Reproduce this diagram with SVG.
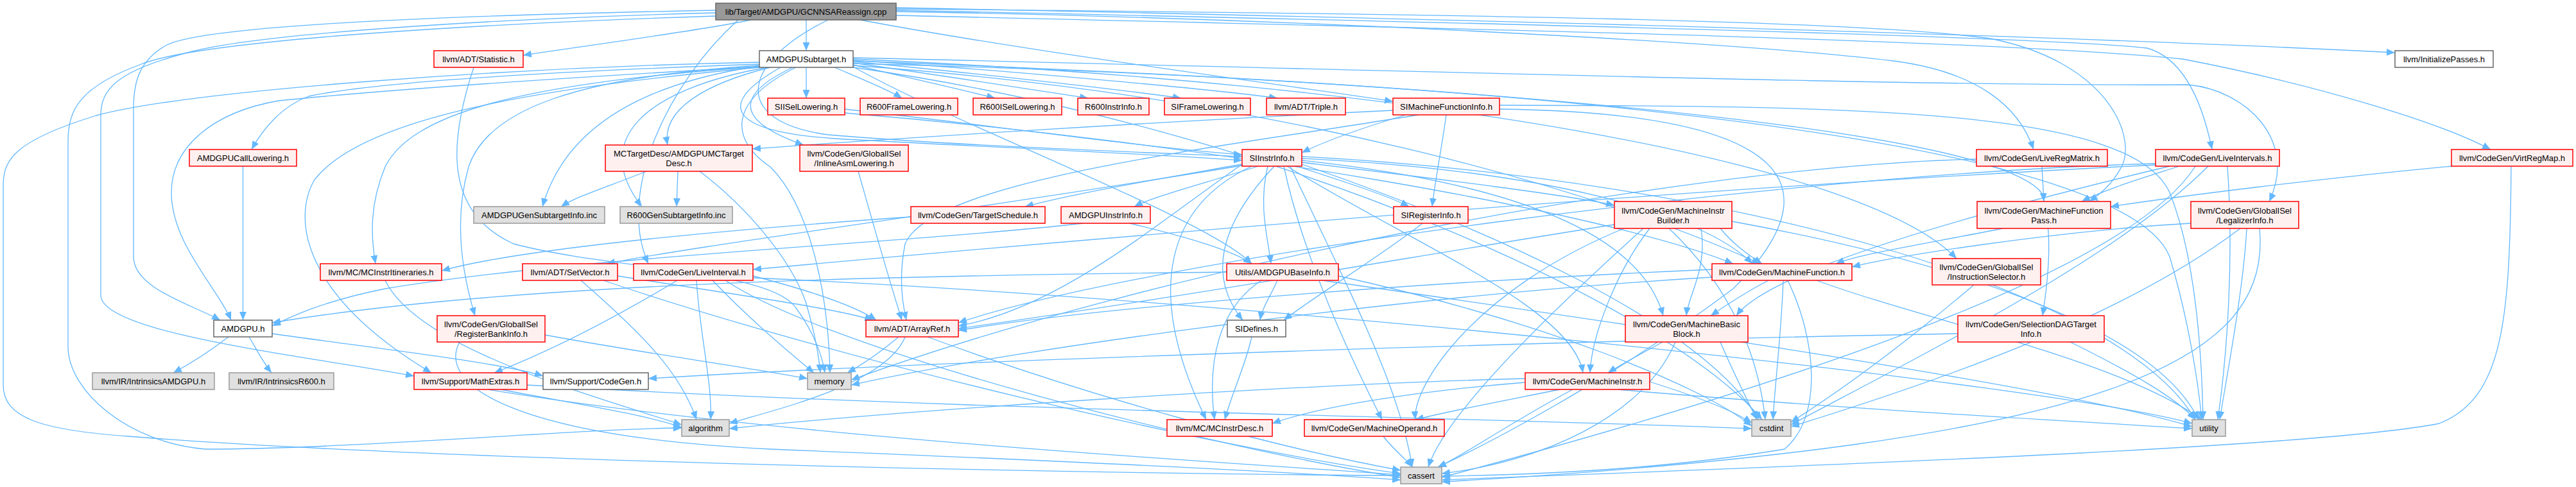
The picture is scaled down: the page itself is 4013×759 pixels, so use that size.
<svg xmlns="http://www.w3.org/2000/svg" width="4013" height="759" viewBox="0 0 4013 759">
<style>
.node rect{stroke-width:1.5}
.r rect{fill:#fff0f0;stroke:#ff0000}
.g rect{fill:#e0e0e0;stroke:#999999}
.w rect{fill:#ffffff;stroke:#666666}
.root rect{fill:#999999;stroke:#666666}
.node text{font-family:"Liberation Sans",Arial,sans-serif;font-size:13px;fill:#000;text-anchor:middle}
.edges path{fill:none;stroke:#63b8ff;stroke-width:1.3;marker-end:url(#a)}
</style>
<defs>
<marker id="a" markerWidth="13" markerHeight="11" refX="13" refY="5.5" orient="auto" markerUnits="userSpaceOnUse">
<path d="M0,0 L13,5.5 L0,11 z" fill="#63b8ff"/>
</marker>
</defs>
<rect width="4013" height="759" fill="#ffffff"/>
<g class="edges">
<path d="M1256,31 L1256,79"/>
<path d="M1170,31 C1090,48 920,70 815,86"/>
<path d="M1340,31 C1600,80 1950,125 2170,158"/>
<path d="M1290,31 C1150,100 1140,190 1290,210 C1500,228 1800,238 1935,244"/>
<path d="M1115,16 C800,22 330,35 260,70 C215,95 208,130 208,170 L208,400 C208,450 300,475 343,499"/>
<path d="M1115,20 C800,28 420,50 300,80 C180,110 157,140 157,180 L157,460 C157,520 480,555 645,586"/>
<path d="M1115,25 C800,35 320,60 220,100 C125,135 106,170 106,220 L106,540 C106,610 200,690 320,700 C550,700 900,668 1062,667"/>
<path d="M1150,31 C1040,130 960,300 1010,411"/>
<path d="M1396,18 C2000,28 2700,65 2950,95 C3080,112 3145,165 3168,233"/>
<path d="M1396,14 C2300,22 2900,32 3100,60 C3280,95 3330,210 3305,260 C3290,288 3272,302 3255,314"/>
<path d="M1396,12 C2300,30 3200,55 3731,82"/>
<path d="M1396,16 C2300,35 3200,58 3345,75 C3405,92 3432,165 3446,233"/>
<path d="M1396,24 C2300,45 3100,62 3400,92 C3600,130 3800,190 3880,233"/>
<path d="M1256,105 L1256,153"/>
<path d="M1300,105 C1340,122 1385,140 1405,153"/>
<path d="M1329,101 C1410,120 1500,140 1550,153"/>
<path d="M1329,98 C1450,115 1610,140 1695,153"/>
<path d="M1329,96 C1500,112 1750,140 1840,153"/>
<path d="M1329,94 C1550,108 1900,140 1990,153"/>
<path d="M1183,100 C900,110 600,125 481,150 C440,165 410,200 392,233"/>
<path d="M1200,105 C1100,130 1030,170 1040,226"/>
<path d="M1235,105 C1140,150 1150,190 1252,226"/>
<path d="M1216,105 C1110,165 1140,205 1300,216 C1550,230 1800,240 1935,250"/>
<path d="M1183,103 C1000,130 880,200 845,322"/>
<path d="M1195,105 C1000,140 920,220 1000,322"/>
<path d="M1183,104 C900,120 600,140 434,157 C330,175 267,230 267,300 C267,380 340,450 360,499"/>
<path d="M1329,104 C1500,200 1880,340 1950,411"/>
<path d="M1329,92 C2200,130 2900,250 3048,403"/>
<path d="M1329,90 C2200,110 3000,135 3408,132 C3500,140 3580,220 3535,314"/>
<path d="M1183,102 C900,120 760,170 730,260 C710,330 715,410 740,492"/>
<path d="M1329,102 C2000,150 2500,300 2742,411"/>
<path d="M1329,95 C2300,130 3100,200 3180,300 C3200,360 3190,440 3182,492"/>
<path d="M1183,104 C800,130 640,180 600,260 C575,320 578,370 585,411"/>
<path d="M1183,105 C800,140 560,190 490,280 C455,340 470,460 672,581"/>
<path d="M1183,97 C800,105 300,140 150,180 C20,220 5,250 5,290 L5,600 C5,650 60,670 200,680 C700,720 1800,740 2182,741"/>
<path d="M1329,105 C2000,200 2600,480 2745,654"/>
<path d="M1240,105 C1130,160 1140,220 1200,260 C1260,320 1290,450 1293,581"/>
<path d="M1329,99 C2200,120 3300,200 3380,400 C3410,500 3425,600 3430,654"/>
<path d="M1316,170 C1500,190 1800,232 1935,241"/>
<path d="M1316,176 C1900,225 2500,330 2700,411"/>
<path d="M2170,172 C1800,190 1400,215 1172,232"/>
<path d="M2190,179 C2120,200 2060,222 2028,238"/>
<path d="M2253,179 C2246,230 2236,280 2231,322"/>
<path d="M2210,179 C1900,230 1450,280 1410,380 C1400,430 1405,470 1412,499"/>
<path d="M2336,164 C2900,165 3320,170 3380,300 C3420,400 3430,550 3432,654"/>
<path d="M2336,170 C2700,175 2900,250 2700,450 C2500,600 2300,700 2240,728"/>
<path d="M1940,255 C1800,280 1680,300 1597,322"/>
<path d="M1960,259 C1880,285 1800,305 1767,322"/>
<path d="M2020,259 C2100,285 2170,308 2195,322"/>
<path d="M2028,253 C2250,280 2450,305 2515,320"/>
<path d="M1975,259 C1960,320 1975,370 1980,411"/>
<path d="M1985,259 C1900,350 1880,430 1936,499"/>
<path d="M1935,256 C1800,350 1650,480 1493,508"/>
<path d="M1935,258 C1500,330 1100,380 945,411"/>
<path d="M2028,250 C2400,290 2560,380 2591,492"/>
<path d="M2028,247 C2400,265 2650,330 2730,411"/>
<path d="M2005,259 C2200,380 2450,480 2466,581"/>
<path d="M2000,259 C2030,400 2100,550 2153,654"/>
<path d="M1950,259 C1820,320 1780,450 1879,654"/>
<path d="M2010,259 C2100,450 2180,600 2200,728"/>
<path d="M2028,256 C2300,350 2650,500 2740,654"/>
<path d="M2028,244 C2700,280 3300,450 3420,654"/>
<path d="M378.5,259 L378.5,499"/>
<path d="M1007,267 C950,290 900,305 874,322"/>
<path d="M1056,267 L1054,322"/>
<path d="M1090,267 C1160,320 1230,400 1255,470 C1270,520 1276,560 1278,581"/>
<path d="M1337,267 C1355,330 1380,420 1405,499"/>
<path d="M1419,338 C1100,360 800,390 688,422"/>
<path d="M1688,348 C1400,380 900,400 600,450 C500,470 450,495 424,508"/>
<path d="M1760,348 C1850,370 1920,390 1950,411"/>
<path d="M2216,348 C2150,400 2050,460 2000,499"/>
<path d="M2515,350 C2200,400 1800,470 1493,512"/>
<path d="M2650,356 C2660,420 2630,460 2627,492"/>
<path d="M2680,356 C2700,380 2720,395 2745,411"/>
<path d="M2570,356 C2520,420 2480,520 2477,581"/>
<path d="M2530,356 C2300,450 2200,600 2205,654"/>
<path d="M2560,356 C2400,500 2250,650 2225,728"/>
<path d="M2600,356 C2700,450 2740,560 2750,654"/>
<path d="M2698,345 C3000,400 3350,500 3425,654"/>
<path d="M3120,356 C3000,380 2900,395 2860,411"/>
<path d="M3181,259 L3184,314"/>
<path d="M3079,248 C2600,260 1800,420 1326,592"/>
<path d="M3358,255 C2800,270 1800,400 1493,503"/>
<path d="M3358,257 C2500,300 1500,390 1173,420"/>
<path d="M3380,259 C3000,350 2750,430 2705,492"/>
<path d="M3395,259 C3330,280 3280,295 3243,314"/>
<path d="M3420,259 C3300,450 2600,650 2246,744"/>
<path d="M3440,259 C3300,400 3000,550 2790,662"/>
<path d="M3470,259 C3480,400 3470,550 3455,654"/>
<path d="M3819,259 C3600,280 3400,305 3288,322"/>
<path d="M3912,259 C3910,500 3900,620 3800,660 C3600,700 2700,730 2246,748"/>
<path d="M3413,348 C3200,360 2950,400 2885,416"/>
<path d="M3520,356 C3540,560 3300,690 2246,751"/>
<path d="M3490,356 C3300,500 3000,600 2790,665"/>
<path d="M3500,356 C3495,450 3470,580 3458,654"/>
<path d="M600,437 C650,540 900,610 1062,662"/>
<path d="M962,430 C1150,460 1300,480 1360,499"/>
<path d="M905,437 C1000,520 1060,580 1085,654"/>
<path d="M940,437 C1300,560 1900,700 2182,738"/>
<path d="M1055,437 C950,500 850,550 770,581"/>
<path d="M1085,437 C1090,520 1110,600 1107,654"/>
<path d="M1173,430 C1250,450 1330,475 1365,499"/>
<path d="M1110,437 C1170,500 1230,550 1268,581"/>
<path d="M1130,437 C1300,550 1900,700 2182,744"/>
<path d="M1173,433 C2000,470 3200,600 3415,660"/>
<path d="M1911,424 C1400,430 800,440 424,503"/>
<path d="M1990,437 C1980,460 1966,480 1963,499"/>
<path d="M1965,437 C1900,480 1880,560 1892,654"/>
<path d="M2085,430 C2400,500 2650,600 2729,664"/>
<path d="M2060,437 C2500,500 3200,600 3415,665"/>
<path d="M1950,525 C1940,570 1920,610 1908,654"/>
<path d="M2667,420 C2200,440 1700,480 1493,515"/>
<path d="M2755,437 C2720,455 2690,475 2665,492"/>
<path d="M2778,437 C2775,520 2765,600 2762,654"/>
<path d="M2785,437 C2830,530 2840,650 2780,700 C2600,730 2400,740 2246,742"/>
<path d="M2667,432 C2200,460 1600,540 1326,600"/>
<path d="M2830,437 C3000,500 3300,560 3430,654"/>
<path d="M3075,444 C2950,550 2850,620 2790,658"/>
<path d="M849,522 C1000,550 1150,570 1258,590"/>
<path d="M716,533 C680,600 800,680 1200,700 C1700,720 2000,735 2182,748"/>
<path d="M1400,525 C1370,550 1340,570 1320,581"/>
<path d="M1410,525 C1380,600 1200,640 1136,660"/>
<path d="M1445,525 C1700,620 2000,700 2182,733"/>
<path d="M356,525 C330,545 300,565 270,581"/>
<path d="M388,525 C400,545 410,565 423,581"/>
<path d="M424,520 C600,545 780,565 846,586"/>
<path d="M780,607 C900,630 1000,645 1062,666"/>
<path d="M760,607 C1200,680 1900,720 2182,740"/>
<path d="M821,600 C1500,640 2300,650 2729,668"/>
<path d="M2590,533 C2560,550 2530,565 2505,581"/>
<path d="M2610,533 C2560,650 2400,720 2246,738"/>
<path d="M2680,533 C2700,580 2720,620 2737,654"/>
<path d="M3050,520 C2500,530 1500,560 1010,590"/>
<path d="M3225,533 C3320,580 3390,620 3420,654"/>
<path d="M2430,607 C2340,625 2260,640 2205,654"/>
<path d="M2376,596 C2200,610 2050,635 1982,660"/>
<path d="M2376,590 C2000,600 1400,640 1136,668"/>
<path d="M2450,607 C2350,660 2280,710 2240,728"/>
<path d="M2570,595 C2650,620 2700,640 2729,659"/>
<path d="M2520,607 C2900,640 3300,660 3415,668"/>
<path d="M2155,680 C2170,700 2190,715 2200,728"/>
<path d="M738,105 C700,220 690,330 800,380 C950,420 1200,420 1240,480 C1270,520 1282,560 1285,581"/>
</g>
<g id="n1" class="node root"><rect x="1115" y="5" width="281" height="26"/><text x="1255.5" y="22.5">lib/Target/AMDGPU/GCNNSAReassign.cpp</text></g>
<g id="n2" class="node w"><rect x="1183" y="79" width="146" height="26"/><text x="1256" y="96.5">AMDGPUSubtarget.h</text></g>
<g id="n3" class="node r"><rect x="676" y="79" width="139" height="26"/><text x="745.5" y="96.5">llvm/ADT/Statistic.h</text></g>
<g id="n4" class="node w"><rect x="3731" y="79" width="153" height="26"/><text x="3807.5" y="96.5">llvm/InitializePasses.h</text></g>
<g id="n5" class="node r"><rect x="1196" y="153" width="120" height="26"/><text x="1256" y="170.5">SIISelLowering.h</text></g>
<g id="n6" class="node r"><rect x="1340" y="153" width="152" height="26"/><text x="1416" y="170.5">R600FrameLowering.h</text></g>
<g id="n7" class="node r"><rect x="1516" y="153" width="138" height="26"/><text x="1585" y="170.5">R600ISelLowering.h</text></g>
<g id="n8" class="node r"><rect x="1679" y="153" width="111" height="26"/><text x="1734.5" y="170.5">R600InstrInfo.h</text></g>
<g id="n9" class="node r"><rect x="1814" y="153" width="134" height="26"/><text x="1881" y="170.5">SIFrameLowering.h</text></g>
<g id="n10" class="node r"><rect x="1973" y="153" width="123" height="26"/><text x="2034.5" y="170.5">llvm/ADT/Triple.h</text></g>
<g id="n11" class="node r"><rect x="2170" y="153" width="166" height="26"/><text x="2253" y="170.5">SIMachineFunctionInfo.h</text></g>
<g id="n12" class="node r"><rect x="295" y="233" width="167" height="26"/><text x="378.5" y="250.5">AMDGPUCallLowering.h</text></g>
<g id="n13" class="node r"><rect x="943" y="226" width="229" height="41"/><text x="1057.5" y="244">MCTargetDesc/AMDGPUMCTarget</text><text x="1057.5" y="259">Desc.h</text></g>
<g id="n14" class="node r"><rect x="1246" y="226" width="169" height="41"/><text x="1330.5" y="244">llvm/CodeGen/GlobalISel</text><text x="1330.5" y="259">/InlineAsmLowering.h</text></g>
<g id="n15" class="node r"><rect x="1935" y="233" width="93" height="26"/><text x="1981.5" y="250.5">SIInstrInfo.h</text></g>
<g id="n16" class="node r"><rect x="3079" y="233" width="204" height="26"/><text x="3181" y="250.5">llvm/CodeGen/LiveRegMatrix.h</text></g>
<g id="n17" class="node r"><rect x="3358" y="233" width="193" height="26"/><text x="3454.5" y="250.5">llvm/CodeGen/LiveIntervals.h</text></g>
<g id="n18" class="node r"><rect x="3819" y="233" width="189" height="26"/><text x="3913.5" y="250.5">llvm/CodeGen/VirtRegMap.h</text></g>
<g id="n19" class="node g"><rect x="738" y="322" width="204" height="26"/><text x="840" y="339.5">AMDGPUGenSubtargetInfo.inc</text></g>
<g id="n20" class="node g"><rect x="966" y="322" width="175" height="26"/><text x="1053.5" y="339.5">R600GenSubtargetInfo.inc</text></g>
<g id="n21" class="node r"><rect x="1419" y="322" width="209" height="26"/><text x="1523.5" y="339.5">llvm/CodeGen/TargetSchedule.h</text></g>
<g id="n22" class="node r"><rect x="1653" y="322" width="139" height="26"/><text x="1722.5" y="339.5">AMDGPUInstrInfo.h</text></g>
<g id="n23" class="node r"><rect x="2171" y="322" width="116" height="26"/><text x="2229" y="339.5">SIRegisterInfo.h</text></g>
<g id="n24" class="node r"><rect x="2515" y="314" width="183" height="42"/><text x="2606.5" y="332.5">llvm/CodeGen/MachineInstr</text><text x="2606.5" y="347.5">Builder.h</text></g>
<g id="n25" class="node r"><rect x="3080" y="314" width="208" height="42"/><text x="3184" y="332.5">llvm/CodeGen/MachineFunction</text><text x="3184" y="347.5">Pass.h</text></g>
<g id="n26" class="node r"><rect x="3413" y="314" width="168" height="42"/><text x="3497" y="332.5">llvm/CodeGen/GlobalISel</text><text x="3497" y="347.5">/LegalizerInfo.h</text></g>
<g id="n27" class="node r"><rect x="499" y="411" width="189" height="26"/><text x="593.5" y="428.5">llvm/MC/MCInstrItineraries.h</text></g>
<g id="n28" class="node r"><rect x="814" y="411" width="148" height="26"/><text x="888" y="428.5">llvm/ADT/SetVector.h</text></g>
<g id="n29" class="node r"><rect x="987" y="411" width="186" height="26"/><text x="1080" y="428.5">llvm/CodeGen/LiveInterval.h</text></g>
<g id="n30" class="node r"><rect x="1911" y="411" width="174" height="26"/><text x="1998" y="428.5">Utils/AMDGPUBaseInfo.h</text></g>
<g id="n31" class="node r"><rect x="2667" y="411" width="218" height="26"/><text x="2776" y="428.5">llvm/CodeGen/MachineFunction.h</text></g>
<g id="n32" class="node r"><rect x="3010" y="403" width="169" height="41"/><text x="3094.5" y="421">llvm/CodeGen/GlobalISel</text><text x="3094.5" y="436">/InstructionSelector.h</text></g>
<g id="n33" class="node w"><rect x="333" y="499" width="91" height="26"/><text x="378.5" y="516.5">AMDGPU.h</text></g>
<g id="n34" class="node r"><rect x="681" y="492" width="168" height="41"/><text x="765" y="510">llvm/CodeGen/GlobalISel</text><text x="765" y="525">/RegisterBankInfo.h</text></g>
<g id="n35" class="node r"><rect x="1349" y="499" width="144" height="26"/><text x="1421" y="516.5">llvm/ADT/ArrayRef.h</text></g>
<g id="n36" class="node w"><rect x="1912" y="499" width="91" height="26"/><text x="1957.5" y="516.5">SIDefines.h</text></g>
<g id="n37" class="node r"><rect x="2532" y="492" width="191" height="41"/><text x="2627.5" y="510">llvm/CodeGen/MachineBasic</text><text x="2627.5" y="525">Block.h</text></g>
<g id="n38" class="node r"><rect x="3050" y="492" width="228" height="41"/><text x="3164" y="510">llvm/CodeGen/SelectionDAGTarget</text><text x="3164" y="525">Info.h</text></g>
<g id="n39" class="node g"><rect x="144" y="581" width="190" height="26"/><text x="239" y="598.5">llvm/IR/IntrinsicsAMDGPU.h</text></g>
<g id="n40" class="node g"><rect x="357" y="581" width="163" height="26"/><text x="438.5" y="598.5">llvm/IR/IntrinsicsR600.h</text></g>
<g id="n41" class="node r"><rect x="645" y="581" width="176" height="26"/><text x="733" y="598.5">llvm/Support/MathExtras.h</text></g>
<g id="n42" class="node w"><rect x="846" y="581" width="164" height="26"/><text x="928" y="598.5">llvm/Support/CodeGen.h</text></g>
<g id="n43" class="node g"><rect x="1258" y="581" width="68" height="26"/><text x="1292" y="598.5">memory</text></g>
<g id="n44" class="node r"><rect x="2376" y="581" width="194" height="26"/><text x="2473" y="598.5">llvm/CodeGen/MachineInstr.h</text></g>
<g id="n45" class="node g"><rect x="1062" y="654" width="74" height="26"/><text x="1099" y="671.5">algorithm</text></g>
<g id="n46" class="node r"><rect x="1818" y="654" width="164" height="26"/><text x="1900" y="671.5">llvm/MC/MCInstrDesc.h</text></g>
<g id="n47" class="node r"><rect x="2032" y="654" width="218" height="26"/><text x="2141" y="671.5">llvm/CodeGen/MachineOperand.h</text></g>
<g id="n48" class="node g"><rect x="2729" y="654" width="61" height="26"/><text x="2759.5" y="671.5">cstdint</text></g>
<g id="n49" class="node g"><rect x="3415" y="654" width="52" height="26"/><text x="3441" y="671.5">utility</text></g>
<g id="n50" class="node g"><rect x="2182" y="728" width="64" height="26"/><text x="2214" y="745.5">cassert</text></g>
</svg>
